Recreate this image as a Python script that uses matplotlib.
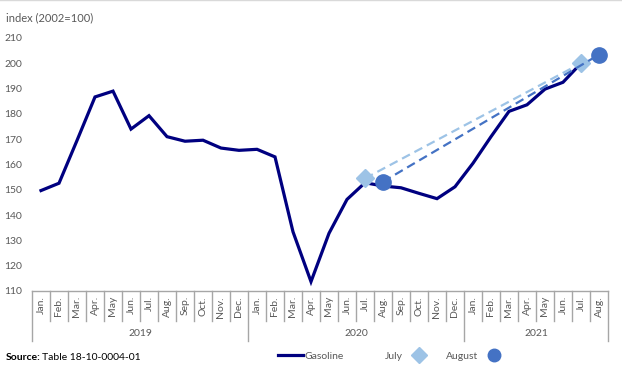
import numpy as np
import matplotlib.pyplot as plt
from matplotlib.lines import Line2D
import matplotlib.transforms as mtransforms

plt.rcParams['font.family'] = ['Lato', 'DejaVu Sans']

# monthly gasoline price index, Jan 2019 - Jul 2021
months = ["Jan.", "Feb.", "Mar.", "Apr.", "May", "Jun.", "Jul.", "Aug.", "Sep.", "Oct.", "Nov.", "Dec.",
          "Jan.", "Feb.", "Mar.", "Apr.", "May", "Jun.", "Jul.", "Aug.", "Sep.", "Oct.", "Nov.", "Dec.",
          "Jan.", "Feb.", "Mar.", "Apr.", "May", "Jun.", "Jul.", "Aug."]
years = ["2019", "2020", "2021"]
year_len = [12, 12, 8]
gasoline = [149.7, 152.6, 169.5, 186.7, 189.0, 174.0, 179.3, 171.0, 169.2, 169.6, 166.5, 165.6,
            166.0, 163.0, 133.4, 113.7, 132.8, 146.2, 152.8, 151.5, 150.8, 148.6, 146.5, 151.2,
            160.5, 171.0, 181.0, 183.6, 189.8, 192.5, 200.0]
july_idx = [18, 30]
july_val = [154.5, 200.0]
aug_idx = [19, 31]
aug_val = [153.2, 203.4]

navy = "#000080"
light = "#9DC3E6"
mid = "#4472C4"
grey = "#595959"
rule = "#A6A6A6"

fig = plt.figure(figsize=(6.22, 3.75), dpi=100)
ax = fig.add_axes([32/622, 1-291/375, 576/622, 253/375])

x = np.arange(len(gasoline)) + 0.5
ax.plot(x, gasoline, color=navy, lw=2.3, solid_joinstyle='miter', zorder=3)
ax.plot(np.array(july_idx) + 0.5, july_val, color=light, lw=1.6, ls=(0, (4, 2.3)),
        marker='D', ms=9, mec=light, mfc=light, zorder=4)
ax.plot(np.array(aug_idx) + 0.5, aug_val, color=mid, lw=1.6, ls=(0, (4, 2.3)),
        marker='o', ms=11, mec=mid, mfc=mid, zorder=5)

ax.set_xlim(0, len(months))
ax.set_ylim(110, 210)
ax.set_yticks(range(110, 211, 10))
ax.tick_params(axis='y', length=0, pad=7, labelsize=7.5, labelcolor=grey)
ax.set_xticks([])
for s in ['left', 'right', 'top']:
    ax.spines[s].set_visible(False)
ax.spines['bottom'].set_color(rule)
ax.spines['bottom'].set_linewidth(1)

# category separators and labels
trans = mtransforms.blended_transform_factory(ax.transData, ax.transAxes)
bounds = np.cumsum([0] + year_len)
for i in range(len(months) + 1):
    bottom = -50/253 if i in bounds else -30/253
    ax.add_line(Line2D([i, i], [0, bottom], transform=trans, color=rule, lw=1, clip_on=False))
for i, m in enumerate(months):
    ax.text(i + 0.5, -5/253, m, transform=trans, rotation=90, ha='center', va='top',
            fontsize=7.5, color=grey)
for k, yr in enumerate(years):
    ax.text((bounds[k] + bounds[k+1]) / 2, -42/253, yr, transform=trans, ha='center', va='center',
            fontsize=7.5, color=grey)

fig.text(6/622, 1-18/375, "index (2002=100)", fontsize=8, color=grey, va='center')

src = fig.text(6/622, 1-358/375, "Source:", fontsize=7.5, fontweight='bold', va='center')
fig.canvas.draw()
bb = src.get_window_extent()
fig.text((bb.x1 + 1)/622, 1-358/375, "Table 18-10-0004-01", fontsize=7.5, va='center')

# legend
h1 = Line2D([], [], color=navy, lw=2.3)
leg1 = fig.legend(handles=[h1], labels=["Gasoline"], loc='center left',
                  bbox_to_anchor=(278/622, 1-356/375), frameon=False, fontsize=7.5,
                  handlelength=2.4, handletextpad=0.1, borderpad=0, borderaxespad=0)
for t in leg1.get_texts():
    t.set_color(grey)
h2 = Line2D([], [], color=light, lw=0, marker='D', ms=8, mfc=light, mec=light)
h3 = Line2D([], [], color=mid, lw=0, marker='o', ms=9, mfc=mid, mec=mid)
leg2 = fig.legend(handles=[h2, h3], labels=["July", "August"], loc='center left',
                  bbox_to_anchor=(385/622, 1-356/375), frameon=False, fontsize=7.5, ncol=2,
                  markerfirst=False, handlelength=1.2, handletextpad=0.9, columnspacing=2.0,
                  borderpad=0, borderaxespad=0)
for t in leg2.get_texts():
    t.set_color(grey)

fig.add_artist(Line2D([0, 1], [0.999, 0.999], color="#D9D9D9", lw=1, transform=fig.transFigure))

fig.savefig("out.png", dpi=100)
